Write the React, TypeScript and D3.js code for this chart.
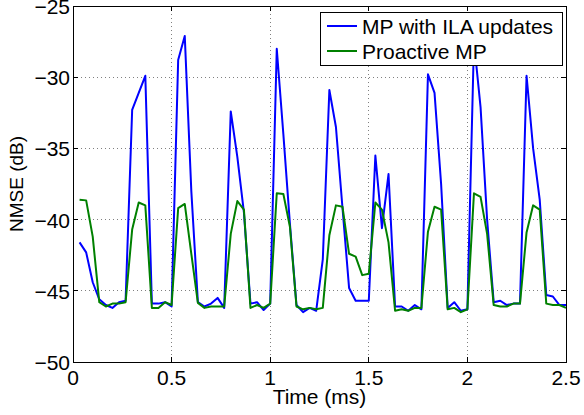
import React from "react";
import * as d3 from "d3";

const timeMs = [
  0.0333, 0.0667, 0.1, 0.1333, 0.1667, 0.2, 0.2333, 0.2667, 0.3, 0.3333,
  0.3667, 0.4, 0.4333, 0.4667, 0.5, 0.5333, 0.5667, 0.6, 0.6333, 0.6667,
  0.7, 0.7333, 0.7667, 0.8, 0.8333, 0.8667, 0.9, 0.9333, 0.9667, 1.0,
  1.0333, 1.0667, 1.1, 1.1333, 1.1667, 1.2, 1.2333, 1.2667, 1.3, 1.3333,
  1.3667, 1.4, 1.4333, 1.4667, 1.5, 1.5333, 1.5667, 1.6, 1.6333, 1.6667,
  1.7, 1.7333, 1.7667, 1.8, 1.8333, 1.8667, 1.9, 1.9333, 1.9667, 2.0,
  2.0333, 2.0667, 2.1, 2.1333, 2.1667, 2.2, 2.2333, 2.2667, 2.3, 2.3333,
  2.3667, 2.4, 2.4333, 2.4667, 2.5,
];

const mpIlaUpdates = [
  -41.6, -42.3, -44.4, -45.6, -46.0, -46.2, -45.8, -45.7, -32.3, -31.1,
  -29.9, -45.9, -45.9, -45.8, -46.1, -28.8, -27.1, -38.0, -45.8, -46.1,
  -45.9, -45.5, -46.2, -32.4, -35.6, -39.5, -45.9, -45.8, -46.35, -45.9,
  -28.0, -34.0, -40.3, -46.0, -46.5, -46.2, -46.4, -42.8, -30.9, -33.5,
  -39.2, -44.8, -45.7, -45.7, -45.7, -35.5, -40.6, -36.8, -46.1, -46.1,
  -46.4, -46.0, -46.3, -29.8, -31.1, -37.5, -46.2, -45.8, -46.4, -46.3,
  -27.5, -32.1, -40.0, -45.8, -45.7, -46.0, -45.9, -45.9, -29.9, -35.0,
  -38.6, -45.3, -45.4, -46.0, -46.0,
];

const proactiveMp = [
  -38.6, -38.65, -41.2, -45.8, -46.1, -45.9, -45.9, -45.8, -40.7, -38.8,
  -39.0, -46.2, -46.2, -45.8, -46.0, -39.2, -38.9, -42.4, -45.85, -46.2,
  -46.1, -46.1, -46.1, -41.0, -38.7, -39.3, -46.2, -46.0, -46.2, -45.9,
  -38.15, -38.2, -40.5, -46.1, -46.3, -46.2, -46.3, -46.2, -41.1, -39.0,
  -39.1, -42.4, -42.6, -43.9, -43.8, -38.8, -39.3, -41.6, -46.4, -46.3,
  -46.4, -46.2, -46.2, -40.85, -39.1, -39.3, -46.3, -46.2, -46.5, -46.3,
  -38.15, -38.4, -41.0, -46.0, -46.1, -46.1, -45.9, -45.9, -40.9, -39.0,
  -39.3, -45.9, -46.0, -46.0, -46.2,
];

const seriesNames = ["MP with ILA updates", "Proactive MP"];
const seriesColors = ["#0000ff", "#008000"];
const xTicks = [0, 0.5, 1, 1.5, 2, 2.5];
const xTickLabels = ["0", "0.5", "1", "1.5", "2", "2.5"];
const yTicks = [-50, -45, -40, -35, -30, -25];
const yTickLabels = ["\u221250", "\u221245", "\u221240", "\u221235", "\u221230", "\u221225"];

const W = 584;
const H = 415;
const M = { left: 73, right: 566, top: 6, bottom: 362 };
const FONT = "'Liberation Sans', Arial, Helvetica, sans-serif";

export default function App() {
  const x = d3.scaleLinear().domain([0, 2.5]).range([M.left, M.right]);
  const y = d3.scaleLinear().domain([-50, -25]).range([M.bottom, M.top]);
  const series = [mpIlaUpdates, proactiveMp];
  const line = d3
    .line<number>()
    .x((_, i) => x(timeMs[i]))
    .y((d) => y(d));
  const tickLen = 5;

  return (
    <div style={{ position: "fixed", left: 0, top: 0, width: W, height: H, background: "#fff" }}>
      <svg width={W} height={H} style={{ display: "block" }} fontFamily={FONT}>
        <rect x={0} y={0} width={W} height={H} fill="#fff" />
        {/* grid */}
        <g stroke="#808080" strokeWidth={1} strokeDasharray="1,3" shapeRendering="crispEdges">
          {xTicks.slice(1, -1).map((t) => (
            <line key={"gx" + t} x1={x(t)} x2={x(t)} y1={M.top} y2={M.bottom} />
          ))}
          {yTicks.slice(1, -1).map((t) => (
            <line key={"gy" + t} x1={M.left} x2={M.right} y1={y(t)} y2={y(t)} />
          ))}
        </g>
        {/* data */}
        <g fill="none" strokeWidth={2} strokeLinejoin="round">
          {series.map((s, i) => (
            <path key={i} d={line(s) || ""} stroke={seriesColors[i]} />
          ))}
        </g>
        {/* axes box and ticks */}
        <g stroke="#000" strokeWidth={1} shapeRendering="crispEdges">
          <rect x={M.left} y={M.top} width={M.right - M.left} height={M.bottom - M.top} fill="none" />
          {xTicks.map((t) => (
            <g key={"tx" + t}>
              <line x1={x(t)} x2={x(t)} y1={M.bottom} y2={M.bottom - tickLen} />
              <line x1={x(t)} x2={x(t)} y1={M.top} y2={M.top + tickLen} />
            </g>
          ))}
          {yTicks.map((t) => (
            <g key={"ty" + t}>
              <line x1={M.left} x2={M.left + tickLen} y1={y(t)} y2={y(t)} />
              <line x1={M.right} x2={M.right - tickLen} y1={y(t)} y2={y(t)} />
            </g>
          ))}
        </g>
        {/* tick labels */}
        <g fontSize={21} fill="#000">
          {xTicks.map((t, i) => (
            <text key={"lx" + t} x={x(t)} y={385} textAnchor="middle">
              {xTickLabels[i]}
            </text>
          ))}
          {yTicks.map((t, i) => (
            <text key={"ly" + t} x={70} y={y(t) + 8} textAnchor="end">
              {yTickLabels[i]}
            </text>
          ))}
        </g>
        <text x={(M.left + M.right) / 2} y={404} textAnchor="middle" fontSize={21}>
          Time (ms)
        </text>
        <text
          transform={`translate(23, ${(M.top + M.bottom) / 2}) rotate(-90)`}
          textAnchor="middle"
          fontSize={19}
        >
          NMSE (dB)
        </text>
        {/* legend */}
        <g>
          <rect x={320} y={12} width={242} height={53} fill="#fff" stroke="#000" strokeWidth={1} shapeRendering="crispEdges" />
          {seriesNames.map((n, i) => (
            <g key={n}>
              <line x1={327} x2={357} y1={26 + i * 25} y2={26 + i * 25} stroke={seriesColors[i]} strokeWidth={2} />
              <text x={362} y={26 + i * 25 + 7.5} fontSize={21}>
                {n}
              </text>
            </g>
          ))}
        </g>
      </svg>
    </div>
  );
}
